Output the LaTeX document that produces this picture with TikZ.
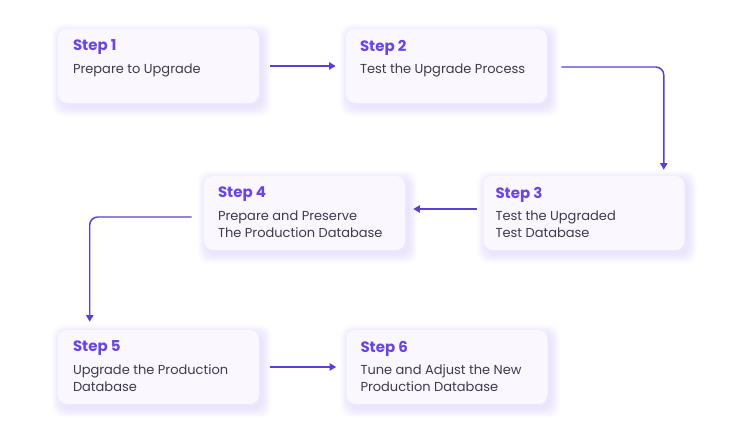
\documentclass[tikz,border=0pt]{standalone}
\usepackage{fontspec}
\setmainfont{Poppins}
\usetikzlibrary{positioning,calc,backgrounds,arrows.meta}

\definecolor{stepviolet}{HTML}{6A45E0}
\definecolor{flowviolet}{HTML}{5B3DD8}
\definecolor{bodygray}{HTML}{3E3A4C}
\definecolor{boxfill}{HTML}{FAF7FF}
\definecolor{shadeviolet}{HTML}{B8A4F6}

\newcommand{\steptitle}[1]{{\fontsize{11.25pt}{15pt}\selectfont\bfseries\color{stepviolet}#1}}

\tikzset{
    stepbox/.style={fill=boxfill, rounded corners=6.75pt, minimum width=150.75pt, minimum height=55.5pt, inner sep=0pt},
    steptext/.style={anchor=north west, align=left, inner sep=0pt, text=bodygray, font=\fontsize{9.75pt}{12.75pt}\selectfont},
    flow/.style={draw=flowviolet, line width=1.1pt, -{Triangle[length=5pt,width=5.5pt]}},
}

\begin{document}
\begin{tikzpicture}[x=0.75pt, y=0.75pt]
    \useasboundingbox (0,0) rectangle (736,430);

    % Step boxes
    \node[stepbox] (s1) at (158.5,364) {};
    \node[stepbox] (s2) at (446.5,364) {};
    \node[stepbox] (s3) at (584,217) {};
    \node[stepbox] (s4) at (304.5,217) {};
    \node[stepbox] (s5) at (158.5,63) {};
    \node[stepbox] (s6) at (447,63) {};

    % Soft shadows behind the boxes
    \begin{scope}[on background layer]
        \foreach \n in {s1,s2,s3,s4,s5,s6}
            \foreach \k in {1,...,9}
                \fill[shadeviolet, opacity=0.035, rounded corners=8pt]
                    ($(\n.south west)+(3-\k,-4-\k)$) rectangle ($(\n.north east)+(3+\k,-4+\k)$);
    \end{scope}

    % Texts
    \node[steptext] (t1) at ($(s1.north west)+(15,-11)$) {\steptitle{Step 1}\\[4pt]Prepare to Upgrade};
    \node[steptext] (t2) at ($(s2.north west)+(14,-11)$) {\steptitle{Step 2}\\[4pt]Test the Upgrade Process};
    \node[steptext] (t3) at ($(s3.north west)+(12,-11)$) {\steptitle{Step 3}\\[4pt]Test the Upgraded\\Test Database};
    \node[steptext] (t4) at ($(s4.north west)+(14,-11)$) {\steptitle{Step 4}\\[4pt]Prepare and Preserve\\The Production Database};
    \node[steptext] (t5) at ($(s5.north west)+(15,-11)$) {\steptitle{Step 5}\\[4pt]Upgrade the Production\\Database};
    \node[steptext] (t6) at ($(s6.north west)+(14,-11)$) {\steptitle{Step 6}\\[4pt]Tune and Adjust the New\\Production Database};

    % Connectors
    \draw[flow, shorten <=8.25pt, shorten >=7.5pt] (s1.east) -- (s2.west);
    \draw[flow, rounded corners=6pt, shorten >=4.5pt]
        ([xshift=10.5pt, yshift=-0.75pt]s2.east) -| ($(s3.north east)+(-21,0)$);
    \draw[flow, shorten <=5pt, shorten >=6pt] ([yshift=3pt]s3.west) -- ([yshift=3pt]s4.east);
    \draw[flow, rounded corners=6pt, shorten >=6pt]
        ([xshift=-9pt, yshift=-3pt]s4.west) -| ($(s5.north west)+(32,0)$);
    \draw[flow, shorten <=8.25pt, shorten >=7.5pt] (s5.east) -- (s6.west);
\end{tikzpicture}
\end{document}
